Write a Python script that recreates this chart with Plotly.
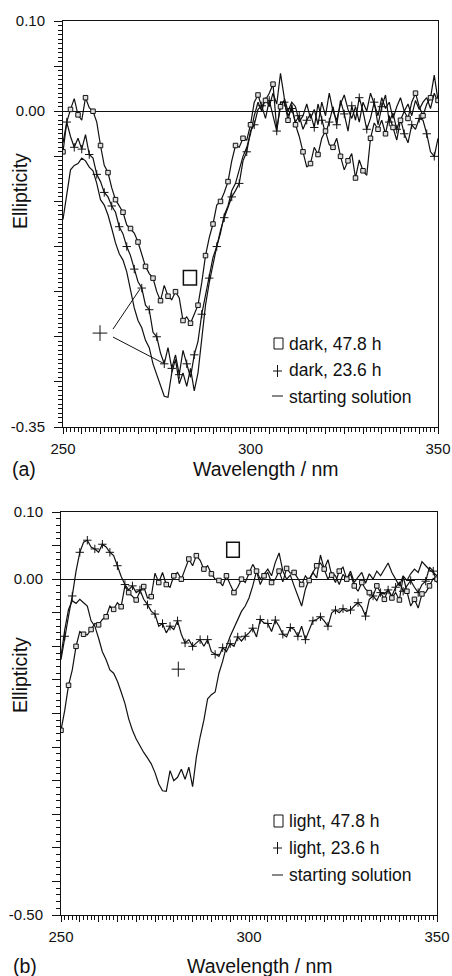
import plotly.graph_objects as go

W, H = 452, 976

wl = list(range(250, 351))

# ---- panel (a): dark ----
a_sq = [-0.045, -0.012, 0.002, 0.014, -0.004, -0.010, 0.015, 0.004, 0.000, -0.012,
        -0.038, -0.060, -0.068, -0.085, -0.098, -0.105, -0.112, -0.126, -0.130, -0.135,
        -0.145, -0.160, -0.172, -0.180, -0.185, -0.200, -0.210, -0.193, -0.205, -0.209,
        -0.200, -0.207, -0.232, -0.228, -0.235, -0.225, -0.215, -0.190, -0.160, -0.140,
        -0.125, -0.104, -0.100, -0.090, -0.078, -0.055, -0.038, -0.040, -0.030, -0.032,
        -0.015, 0.010, 0.018, 0.005, 0.012, 0.020, 0.030, -0.020, 0.005, 0.012,
        -0.010, 0.007, -0.015, -0.028, -0.045, -0.062, -0.058, -0.040, -0.048, -0.030,
        -0.022, -0.037, -0.040, -0.030, -0.050, -0.065, -0.055, -0.047, -0.074, -0.054,
        -0.066, -0.071, -0.030, -0.013, -0.020, -0.010, -0.025, -0.005, -0.018, -0.032,
        -0.010, 0.000, -0.008, 0.010, 0.020, 0.005, -0.005, 0.008, 0.015, 0.040,
        0.012]
a_pl = [-0.035, -0.012, -0.028, -0.040, -0.030, -0.042, -0.026, -0.048, -0.052, -0.070,
        -0.078, -0.090, -0.095, -0.105, -0.112, -0.128, -0.136, -0.150, -0.160, -0.175,
        -0.189, -0.196, -0.215, -0.220, -0.245, -0.250, -0.268, -0.280, -0.262, -0.285,
        -0.270, -0.292, -0.265, -0.280, -0.295, -0.270, -0.255, -0.225, -0.205, -0.185,
        -0.162, -0.150, -0.132, -0.118, -0.106, -0.095, -0.088, -0.080, -0.055, -0.045,
        -0.022, -0.015, 0.002, 0.006, -0.008, 0.012, -0.005, -0.022, 0.010, 0.010,
        -0.005, 0.003, -0.012, -0.005, -0.020, -0.010, -0.003, -0.018, 0.008, -0.010,
        -0.025, -0.012, 0.005, -0.015, 0.012, -0.003, -0.022, 0.006, -0.010, 0.015,
        0.000, -0.020, -0.008, 0.010, -0.015, 0.005, 0.018, -0.012, -0.002, -0.020,
        -0.008, -0.025, -0.035, -0.015, -0.020, -0.008, -0.010, -0.025, -0.045, -0.050,
        -0.030]
a_st = [-0.120, -0.095, -0.065, -0.060, -0.058, -0.052, -0.055, -0.062, -0.066, -0.080,
        -0.098, -0.104, -0.115, -0.130, -0.146, -0.158, -0.165, -0.178, -0.200, -0.218,
        -0.232, -0.240, -0.254, -0.262, -0.280, -0.292, -0.306, -0.316, -0.317, -0.290,
        -0.275, -0.302, -0.290, -0.305, -0.285, -0.310, -0.290, -0.250, -0.215, -0.190,
        -0.170, -0.150, -0.135, -0.115, -0.105, -0.088, -0.080, -0.066, -0.050, -0.040,
        -0.025, -0.005, 0.010, 0.000, 0.015, 0.005, 0.020, 0.008, 0.042, 0.015,
        0.000, 0.010, 0.005, -0.012, -0.005, 0.008, -0.008, 0.002, -0.015, 0.010,
        -0.005, 0.020, 0.000, -0.010, 0.008, 0.018, 0.002, -0.008, 0.005, -0.012,
        0.010, 0.000, 0.020, 0.008, -0.005, 0.015, 0.003, 0.010, -0.008, 0.005,
        0.015, 0.000, 0.008, -0.005, 0.012, 0.002, 0.010, 0.015, 0.003, 0.020,
        0.010]

# ---- panel (b): light ----
b_sq = [-0.225, -0.195, -0.158, -0.135, -0.100, -0.078, -0.082, -0.083, -0.075, -0.066,
        -0.068, -0.060, -0.056, -0.040, -0.045, -0.035, -0.041, -0.010, -0.020, -0.025,
        -0.031, -0.018, -0.011, -0.028, -0.026, 0.009, -0.005, 0.010, -0.008, -0.012,
        0.005, 0.010, 0.000, 0.015, 0.030, 0.020, 0.035, 0.028, 0.015, 0.020,
        0.008, 0.000, -0.002, -0.010, 0.005, -0.008, -0.020, -0.012, 0.000, -0.005,
        0.010, 0.022, 0.012, -0.008, 0.005, 0.010, -0.005, 0.000, 0.012, -0.004,
        0.016, 0.009, 0.010, 0.000, -0.008, 0.005, -0.002, 0.010, 0.020, 0.024,
        0.015, 0.029, 0.006, -0.005, 0.012, 0.018, 0.000, 0.008, -0.010, -0.018,
        -0.005, -0.015, -0.020, -0.025, -0.010, -0.020, -0.030, -0.015, -0.028, -0.020,
        -0.031, 0.004, -0.018, -0.040, -0.030, -0.043, -0.022, -0.020, -0.010, 0.001,
        0.000]
b_pl = [-0.120, -0.085, -0.055, -0.025, 0.012, 0.040, 0.055, 0.058, 0.048, 0.045,
        0.040, 0.052, 0.048, 0.040, 0.035, 0.020, 0.004, -0.008, -0.016, -0.010,
        -0.020, -0.016, -0.030, -0.038, -0.048, -0.052, -0.070, -0.066, -0.080, -0.070,
        -0.075, -0.062, -0.082, -0.095, -0.090, -0.100, -0.095, -0.090, -0.100, -0.090,
        -0.108, -0.112, -0.115, -0.102, -0.108, -0.096, -0.100, -0.086, -0.092, -0.085,
        -0.080, -0.073, -0.086, -0.060, -0.065, -0.066, -0.078, -0.061, -0.070, -0.082,
        -0.086, -0.072, -0.075, -0.085, -0.070, -0.090, -0.075, -0.062, -0.060, -0.056,
        -0.062, -0.070, -0.050, -0.046, -0.050, -0.044, -0.048, -0.046, -0.040, -0.035,
        -0.042, -0.055, -0.030, -0.025, -0.032, -0.020, -0.022, -0.016, -0.025, -0.012,
        -0.005, -0.018, -0.010, -0.002, -0.012, -0.020, -0.008, -0.003, 0.018, 0.012,
        -0.005]
b_st = [-0.115, -0.075, -0.045, -0.032, -0.036, -0.030, -0.035, -0.040, -0.062, -0.070,
        -0.088, -0.108, -0.120, -0.135, -0.140, -0.152, -0.168, -0.185, -0.208, -0.225,
        -0.238, -0.249, -0.258, -0.266, -0.275, -0.288, -0.305, -0.315, -0.316, -0.285,
        -0.300, -0.295, -0.283, -0.298, -0.280, -0.309, -0.265, -0.235, -0.210, -0.178,
        -0.172, -0.168, -0.140, -0.122, -0.100, -0.085, -0.072, -0.060, -0.048, -0.040,
        -0.028, -0.010, 0.012, 0.000, 0.008, 0.015, 0.005, 0.025, 0.039, 0.012,
        0.000, 0.006, -0.010, -0.025, -0.040, -0.015, 0.000, 0.010, 0.002, 0.036,
        0.015, 0.000, 0.010, 0.005, -0.008, 0.007, 0.000, 0.012, -0.005, 0.003,
        0.010, -0.006, 0.008, 0.000, 0.012, 0.005, 0.015, 0.024, 0.010, 0.000,
        -0.010, 0.005, -0.002, 0.008, 0.015, 0.010, 0.026, 0.020, 0.014, 0.010,
        0.005]

legend_a = ["dark, 47.8 h", "dark, 23.6 h", "starting solution"]
legend_b = ["light, 47.8 h", "light, 23.6 h", "starting solution"]

x_tickvals = [250, 255, 260, 265, 270, 275, 280, 285, 290, 295, 300,
              305, 310, 315, 320, 325, 330, 335, 340, 345, 350]
x_ticktext = ["250"] + [""] * 9 + ["300"] + [""] * 9 + ["350"]
ya_tickvals = [0.10, 0.05, 0.00, -0.05, -0.10, -0.15, -0.20, -0.25, -0.30, -0.35]
ya_ticktext = ["0.10", "", "0.00", "", "", "", "", "", "", "-0.35"]
yb_tickvals = [0.10, 0.05, 0.00, -0.05, -0.10, -0.15, -0.20, -0.25, -0.30, -0.35, -0.40, -0.45, -0.50]
yb_ticktext = ["0.10", "", "0.00"] + [""] * 9 + ["-0.50"]

FONT = "Liberation Sans, Arial, Helvetica, sans-serif"
BLACK = "#111111"

fig = go.Figure()


def add_panel(sq, pl, st, xa, ya):
    for ser in (st, pl, sq):
        fig.add_trace(go.Scatter(x=wl, y=ser, mode="lines", line=dict(color=BLACK, width=1.2),
                                 xaxis=xa, yaxis=ya, showlegend=False, hoverinfo="skip"))
    fig.add_trace(go.Scatter(x=wl[1::2], y=pl[1::2], mode="markers",
                             marker=dict(symbol="cross-thin-open", size=6, color=BLACK,
                                         line=dict(color=BLACK, width=1)),
                             xaxis=xa, yaxis=ya, showlegend=False, hoverinfo="skip"))
    fig.add_trace(go.Scatter(x=wl[::2], y=sq[::2], mode="markers",
                             marker=dict(symbol="square", size=4.5, color="#dddddd",
                                         line=dict(color=BLACK, width=1)),
                             xaxis=xa, yaxis=ya, showlegend=False, hoverinfo="skip"))


add_panel(a_sq, a_pl, a_st, "x", "y")
add_panel(b_sq, b_pl, b_st, "x2", "y2")


def px(x):
    return x / W


def py(y):
    return 1 - y / H


xcommon = dict(range=[250, 350], showgrid=False, zeroline=False, showline=True, linecolor=BLACK,
               linewidth=1, mirror=True, ticks="outside", ticklen=6, tickwidth=1, tickcolor=BLACK,
               tickmode="array", tickvals=x_tickvals, ticktext=x_ticktext, automargin=False,
               tickfont=dict(family=FONT, size=15, color=BLACK), ticklabelstandoff=2,
               minor=dict(tickmode="linear", tick0=250, dtick=1, ticks="outside", ticklen=3.5,
                          tickwidth=1, tickcolor=BLACK, showgrid=False))
ycommon = dict(showgrid=False, zeroline=True, zerolinecolor=BLACK, zerolinewidth=1, showline=True,
               linecolor=BLACK, linewidth=1, mirror=True, ticks="outside", ticklen=8, tickwidth=1,
               tickcolor=BLACK, tickmode="array", automargin=False,
               tickfont=dict(family=FONT, size=15, color=BLACK), ticklabelstandoff=6)

fig.update_layout(
    width=W, height=H, margin=dict(l=0, r=0, t=0, b=0, pad=0, autoexpand=False),
    paper_bgcolor="white", plot_bgcolor="white", showlegend=False,
    font=dict(family=FONT, color=BLACK),
    xaxis=dict(xcommon, domain=[px(63), px(438)], anchor="y"),
    yaxis=dict(ycommon, domain=[py(427), py(21)], anchor="x", range=[-0.35, 0.10],
               tickvals=ya_tickvals, ticktext=ya_ticktext,
               minor=dict(tickmode="linear", tick0=0, dtick=0.005, ticks="outside", ticklen=4,
                          tickwidth=1, tickcolor=BLACK, showgrid=False)),
    xaxis2=dict(xcommon, domain=[px(61), px(437)], anchor="y2"),
    yaxis2=dict(ycommon, domain=[py(915), py(512)], anchor="x2", range=[-0.50, 0.10],
                tickvals=yb_tickvals, ticktext=yb_ticktext,
                minor=dict(tickmode="linear", tick0=0, dtick=0.01, ticks="outside", ticklen=4,
                           tickwidth=1, tickcolor=BLACK, showgrid=False)),
)

ann = []
TF = dict(family=FONT, size=19.5, color=BLACK)
LF = dict(family=FONT, size=17.5, color=BLACK)
for yc in (191, 675):
    ann.append(dict(text="Ellipticity", x=px(20), y=py(yc), xref="paper", yref="paper",
                    textangle=-90, showarrow=False, font=TF, xanchor="center", yanchor="middle"))
ann.append(dict(text="Wavelength / nm", x=px(266), y=py(469), xref="paper", yref="paper",
                showarrow=False, font=TF, xanchor="center", yanchor="middle"))
ann.append(dict(text="Wavelength / nm", x=px(260), y=py(966), xref="paper", yref="paper",
                showarrow=False, font=TF, xanchor="center", yanchor="middle"))
ann.append(dict(text="(a)", x=px(10), y=py(469), xref="paper", yref="paper",
                showarrow=False, font=TF, xanchor="left", yanchor="middle"))
ann.append(dict(text="(b)", x=px(11), y=py(966), xref="paper", yref="paper",
                showarrow=False, font=TF, xanchor="left", yanchor="middle"))
for labels, ys in ((legend_a, (343.5, 370, 396.5)), (legend_b, (821, 848, 875))):
    for t, yc in zip(labels, ys):
        ann.append(dict(text=t, x=px(287), y=py(yc), xref="paper", yref="paper",
                        showarrow=False, font=LF, xanchor="left", yanchor="middle"))
fig.update_layout(annotations=ann)

shapes = []
LN = dict(color=BLACK, width=1)
# legend symbols
for (sy0, sy1, pyc, dyc) in ((338, 349, 371, 396), (815, 827, 848, 875)):
    shapes.append(dict(type="rect", xref="paper", yref="paper", x0=px(274), x1=px(283),
                       y0=py(sy1), y1=py(sy0), line=LN))
    shapes.append(dict(type="line", xref="paper", yref="paper", x0=px(273), x1=px(282),
                       y0=py(pyc), y1=py(pyc), line=LN))
    shapes.append(dict(type="line", xref="paper", yref="paper", x0=px(277.5), x1=px(277.5),
                       y0=py(pyc - 6), y1=py(pyc + 6), line=LN))
    shapes.append(dict(type="line", xref="paper", yref="paper", x0=px(272), x1=px(283),
                       y0=py(dyc), y1=py(dyc), line=LN))
# big curve labels, panel (a)
shapes.append(dict(type="rect", xref="x", yref="y", x0=282.1, x1=285.6, y0=-0.1927, y1=-0.1766,
                   line=dict(color=BLACK, width=1.5)))
shapes.append(dict(type="line", xref="x", yref="y", x0=257.9, x1=261.8, y0=-0.2459, y1=-0.2459, line=LN))
shapes.append(dict(type="line", xref="x", yref="y", x0=259.87, x1=259.87, y0=-0.2546, y1=-0.2372, line=LN))
shapes.append(dict(type="line", xref="x", yref="y", x0=263.33, x1=270.53, y0=-0.2415, y1=-0.1971, line=LN))
shapes.append(dict(type="line", xref="x", yref="y", x0=263.33, x1=276.67, y0=-0.2503, y1=-0.2792, line=LN))
# big curve labels, panel (b)
shapes.append(dict(type="rect", xref="x2", yref="y2", x0=294.07, x1=297.42, y0=0.0326, y1=0.0549,
                   line=dict(color=BLACK, width=1.5)))
shapes.append(dict(type="line", xref="x2", yref="y2", x0=279.42, x1=282.98, y0=-0.134, y1=-0.134, line=LN))
shapes.append(dict(type="line", xref="x2", yref="y2", x0=281.2, x1=281.2, y0=-0.1452, y1=-0.1228, line=LN))
fig.update_layout(shapes=shapes)

fig.write_html("out.html", config={"displayModeBar": False},
               post_script="document.body.style.margin='0';document.body.style.padding='0';"
                           "document.body.style.overflow='hidden';"
                           "document.documentElement.style.overflow='hidden';")
